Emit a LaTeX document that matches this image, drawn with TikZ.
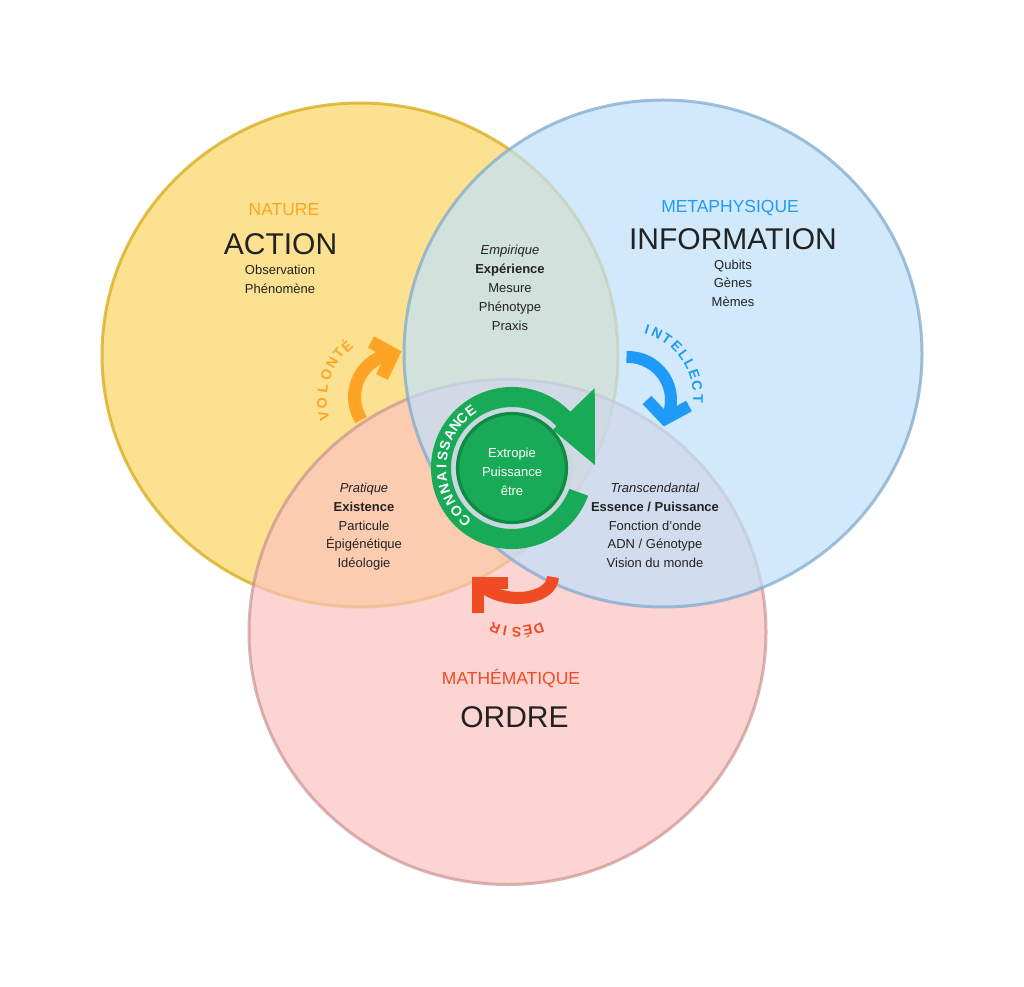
\documentclass[tikz,border=0pt]{standalone}
\usepackage{fontspec}
\setmainfont{Liberation Sans}
\definecolor{yfill}{RGB}{252,214,98}
\definecolor{bfill}{RGB}{191,225,251}
\definecolor{rfill}{RGB}{252,195,192}
\definecolor{yline}{RGB}{214,168,19}
\definecolor{bline}{RGB}{126,169,204}
\definecolor{rline}{RGB}{200,140,140}
\definecolor{orangeA}{RGB}{253,164,38}
\definecolor{blueA}{RGB}{30,155,246}
\definecolor{redA}{RGB}{240,75,35}
\definecolor{greenA}{RGB}{24,170,86}
\definecolor{greenD}{RGB}{14,138,66}
\definecolor{ringL}{RGB}{202,215,225}
\definecolor{txtc}{RGB}{34,34,34}
\begin{document}
\begin{tikzpicture}[x=0.75pt,y=-0.75pt,
  yc/.style={fill=yfill,fill opacity=0.7,draw=yline,draw opacity=0.72,line width=2.25pt},
  rc/.style={fill=rfill,fill opacity=0.7,draw=rline,draw opacity=0.65,line width=2.25pt},
  bc/.style={fill=bfill,fill opacity=0.7,draw=bline,draw opacity=0.72,line width=2.25pt},
  txt/.style={anchor=base,inner sep=0pt,text=txtc,font=\fontsize{9.75}{12}\selectfont},
  hd/.style={anchor=base,inner sep=0pt,font=\fontsize{13.1}{15}\selectfont},
  big/.style={anchor=base,inner sep=0pt,text=txtc,font=\fontsize{22.5}{26}\selectfont},
  lbl/.style={inner sep=0pt,font=\bfseries\fontsize{10.5}{11}\selectfont},
  ctxt/.style={anchor=base,inner sep=0pt,text=white,font=\fontsize{9.75}{12}\selectfont},
  oarrow/.style={draw=orangeA,line width=9.75pt},
  barrow/.style={draw=blueA,line width=9pt},
  rarrow/.style={draw=redA,line width=9pt},
  chev/.style={line join=miter,line cap=butt}
]
\useasboundingbox (0,0) rectangle (1024,987);
\fill[white] (0,0) rectangle (1024,987);

% circles
\path[yc] (360,355) ellipse [x radius=258, y radius=252];
\path[rc] (507.5,632) ellipse [x radius=258.5, y radius=252.5];
\path[bc] (663,353.5) ellipse [x radius=259, y radius=253.5];

% NATURE / ACTION
\node[hd,text=orangeA] (nat) at (284,216) {NATURE};
\node[big] (act) at (280.5,255) {ACTION};
\node[txt] (obs) at (280,274.5) {Observation};
\node[txt] (phe) at (280,293.2) {Phénomène};

% METAPHYSIQUE / INFORMATION
\node[hd,text=blueA] (meta) at (730,212.5) {METAPHYSIQUE};
\node[big] (info) at (733,250) {INFORMATION};
\node[txt] (qub) at (733,269.5) {Qubits};
\node[txt] (gen) at (733,288) {Gènes};
\node[txt] (mem) at (733,306.5) {Mèmes};

% Empirique
\node[txt] (emp) at (510,254.5) {\itshape Empirique};
\node[txt] (exp) at (510,273.5) {\bfseries Expérience};
\node[txt] (mes) at (510,292.5) {Mesure};
\node[txt] (phn) at (510,311.5) {Phénotype};
\node[txt] (pra) at (510,330.5) {Praxis};

% Pratique
\node[txt] (prt) at (364,492.5) {\itshape Pratique};
\node[txt] (exi) at (364,511.2) {\bfseries Existence};
\node[txt] (par) at (364,530) {Particule};
\node[txt] (epi) at (364,548.8) {Épigénétique};
\node[txt] (ideo) at (364,567.5) {Idéologie};

% Transcendantal
\node[txt] (tra) at (655,492.5) {\itshape Transcendantal};
\node[txt] (ess) at (655,511.2) {\bfseries Essence / Puissance};
\node[txt] (fon) at (655,530) {Fonction d’onde};
\node[txt] (adn) at (655,548.8) {ADN / Génotype};
\node[txt] (vis) at (655,567.5) {Vision du monde};

% MATHEMATIQUE / ORDRE
\node[hd,text=redA] (math) at (511,684.5) {MATHÉMATIQUE};
\node[big] (ord) at (514.5,727) {ORDRE};

% orange arrow (VOLONTE)
\draw[oarrow] (398,397) ++(148:43.5) arc[start angle=148,end angle=263,radius=43.5];
\draw[oarrow,chev] (371,342) -- (393,354) -- (382,377);
\begin{scope}[shift={(395,400)}]
\foreach \a/\l [count=\i, evaluate=\a as \rot using {270-\a}] in {167/V,177.5/O,189/L,200/O,210.5/N,219.5/T,228/É}
  \node[lbl,text=orangeA,rotate=\rot] (vol\i) at (\a:73) {\l};
\end{scope}

% blue arrow (INTELLECT)
\draw[barrow] (628,400) ++(268:43) arc[start angle=268,end angle=386,radius=43];
\draw[barrow,chev] (647,400) -- (665,419) -- (689,406);
\begin{scope}[shift={(626,398)}]
\foreach \a/\l [count=\i, evaluate=\a as \rot using {270-\a}] in {287/I,295.5/N,304.5/T,314.5/E,323.5/L,332/L,341/E,350.5/C,361/T}
  \node[lbl,text=blueA,rotate=\rot] (int\i) at (\a:72) {\l};
\end{scope}

% red arrow (DESIR)
\draw[rarrow] (553,577) .. controls (552,600) and (503,607) .. (478,583);
\draw[rarrow,chev] (478,613) -- (478,583) -- (508,583);
\begin{scope}[shift={(517,570)}]
\foreach \a/\l [count=\i, evaluate=\a as \rot using {270-\a}] in {69.6/D,79.9/É,90.3/S,101/I,110.8/R}
  \node[lbl,text=redA,rotate=\rot] (des\i) at (\a:62.5) {\l};
\end{scope}

% green centre
\begin{scope}[shift={(512,468)}]
\fill[ringL] (0,0) circle[radius=61];
\fill[greenA] (20:61) -- (20:81) arc[start angle=20,end angle=316,radius=81]
  -- (316:115) -- (358:83) -- (317:56) -- (317:61)
  arc[start angle=317,end angle=20,radius=61] -- cycle;
\filldraw[fill=greenA,draw=greenD,line width=2.4pt] (0,0) circle[radius=54.5];
\foreach \a/\l [count=\i, evaluate=\a as \rot using {270-\a}] in {132/C,142/O,152.5/N,163/N,173/A,181/I,190/S,198.5/S,208/A,216.5/N,225/C,234/E}
  \node[lbl,text=white,rotate=\rot] (con\i) at (\a:70.5) {\l};
\end{scope}
\node[ctxt] (c1) at (512,457.5) {Extropie};
\node[ctxt] (c2) at (512,476.5) {Puissance};
\node[ctxt] (c3) at (512,495.5) {être};
\end{tikzpicture}
\end{document}
